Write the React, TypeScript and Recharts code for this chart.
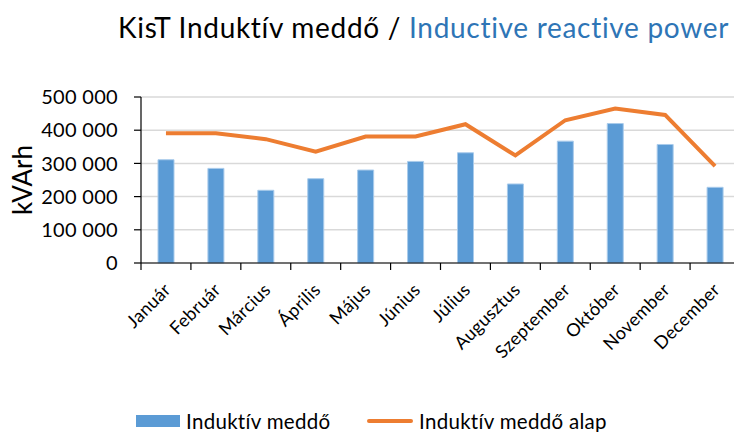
import React from "react";
import {
  ComposedChart,
  Bar,
  Line,
  XAxis,
  YAxis,
  CartesianGrid,
  Legend,
} from "recharts";

const months = [
  "Január",
  "Február",
  "Március",
  "Április",
  "Május",
  "Június",
  "Július",
  "Augusztus",
  "Szeptember",
  "Október",
  "November",
  "December",
];
const meddo = [311000, 285000, 219000, 254000, 280000, 306000, 332000, 238000, 367000, 420000, 357000, 228000];
const meddoAlap = [391000, 391000, 373000, 335000, 381000, 381000, 418000, 324000, 430000, 465000, 446000, 292000];
const yTicks = [0, 100000, 200000, 300000, 400000, 500000];

const data = months.map((m, i) => ({ month: m, meddo: meddo[i], alap: meddoAlap[i] }));

const FONT = "Lato, 'Open Sans', sans-serif";
const BLUE = "#5B9BD5";
const ORANGE = "#ED7D31";

const fmt = (v: number) => (v === 0 ? "0" : v.toLocaleString("en-US").replace(/,/g, " "));

// category label rotated -45deg plus a tick mark on the left band edge
const MonthTick = (props: any) => {
  const { x, y, payload } = props;
  const edge = x - (payload.offset || 0);
  const lx = x + 6;
  const ly = y + 28;
  return (
    <g>
      <line x1={edge} y1={y} x2={edge} y2={y + 7} stroke="#000" strokeWidth={1.2} />
      <text
        x={lx}
        y={ly}
        transform={`rotate(-45, ${lx}, ${ly})`}
        textAnchor="end"
        fontSize={18}
        letterSpacing={0.3}
        fontFamily={FONT}
        fill="#000"
      >
        {payload.value}
      </text>
    </g>
  );
};

const LegendBox = () => (
  <div
    style={{
      display: "flex",
      alignItems: "center",
      paddingLeft: 136,
      paddingTop: 18,
      boxSizing: "border-box",
      fontFamily: FONT,
      fontSize: 20.5,
      letterSpacing: 0.3,
      color: "#000",
      height: 40,
      whiteSpace: "nowrap",
    }}
  >
    <span style={{ display: "flex", alignItems: "center", width: 231 }}>
      <span style={{ display: "inline-block", width: 44, height: 12, background: BLUE, marginRight: 6 }} />
      <span>Induktív meddő</span>
    </span>
    <span style={{ display: "flex", alignItems: "center" }}>
      <span
        style={{
          display: "inline-block",
          width: 46,
          height: 4,
          borderRadius: 2,
          background: ORANGE,
          marginRight: 6,
        }}
      />
      <span>Induktív meddő alap</span>
    </span>
  </div>
);

export default function App() {
  return (
    <div style={{ position: "absolute", left: 0, top: 0, width: 734, height: 432, overflow: "hidden", background: "#fff" }}>
      <div
        style={{
          position: "absolute",
          top: 10,
          left: 0,
          width: 760,
          paddingLeft: 118,
          boxSizing: "border-box",
          fontFamily: FONT,
          fontSize: 28,
          letterSpacing: 0.7,
          whiteSpace: "nowrap",
          color: "#000",
        }}
      >
        KisT Induktív meddő / <span style={{ color: "#2E75B6" }}>Inductive reactive power</span>
      </div>
      <ComposedChart
        width={760}
        height={432}
        data={data}
        margin={{ top: 97, right: 20, left: 0, bottom: 0 }}
      >
        <CartesianGrid vertical={false} stroke="#D9D9D9" strokeWidth={1.5} />
        <XAxis
          dataKey="month"
          interval={0}
          height={129}
          tick={<MonthTick />}
          tickLine={false}
          tickSize={0}
          tickMargin={0}
          axisLine={{ stroke: "#000", strokeWidth: 1.2 }}
        />
        <YAxis
          width={141}
          domain={[0, 500000]}
          ticks={yTicks}
          tickFormatter={fmt}
          tickSize={7}
          tickMargin={16}
          tick={{ fontSize: 20, fontFamily: FONT, fill: "#000", letterSpacing: 0.3 }}
          axisLine={{ stroke: "#000", strokeWidth: 1.2 }}
          tickLine={{ stroke: "#000", strokeWidth: 1.2 }}
          label={{
            value: "kVArh",
            angle: -90,
            position: "insideLeft",
            offset: 23,
            style: { fontSize: 26, fontFamily: FONT, fill: "#000", textAnchor: "middle" },
          }}
        />
        <Bar dataKey="meddo" name="Induktív meddő" fill={BLUE} stroke="#A9CBEB" strokeWidth={1} barSize={16} isAnimationActive={false} />
        <Line
          dataKey="alap"
          name="Induktív meddő alap"
          stroke={ORANGE}
          strokeWidth={4}
          dot={false}
          type="linear"
          isAnimationActive={false}
        />
        <Legend verticalAlign="bottom" height={40} content={<LegendBox />} wrapperStyle={{ left: 0, width: 734 }} />
      </ComposedChart>
    </div>
  );
}
